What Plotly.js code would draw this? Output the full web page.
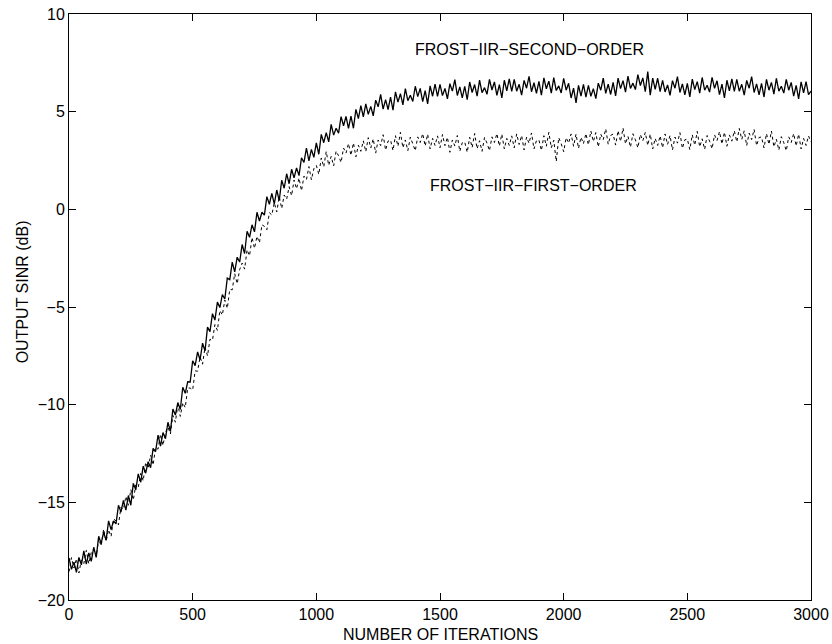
<!DOCTYPE html>
<html>
<head>
<meta charset="utf-8">
<script src="https://cdn.plot.ly/plotly-3.0.1.min.js"></script>
<style>
  html, body { margin: 0; padding: 0; background: #ffffff; }
  #chart { width: 832px; height: 644px; }
</style>
</head>
<body>
<div id="chart"></div>
<script>
// Sample spacing (iterations between read samples)
const iterStep = 10;

// FROST-IIR-SECOND-ORDER output SINR (dB), read every 10 iterations (0..3000)
const secondOrder = [
  -17.85,-18.43,-18.06,-18.59,-17.82,-18.2,-17.48,-18.16,-17.59,-18.02,
  -17.3,-17.82,-16.74,-17.11,-16.53,-16.95,-15.95,-16.4,-15.95,-16.1,
  -15.15,-15.5,-14.9,-15.4,-14.65,-15.15,-14.03,-14.36,-13.54,-13.97,
  -13.15,-13.51,-12.92,-13.23,-12.24,-12.4,-11.56,-12.12,-11.43,-11.74,
  -10.9,-11.36,-10.22,-10.53,-9.89,-10.25,-9.11,-9.42,-8.83,-8.84,
  -7.75,-8.0,-7.3,-7.7,-6.85,-7.25,-6.03,-6.26,-5.34,-5.67,
  -4.75,-5.03,-4.36,-4.59,-3.52,-3.6,-2.7,-3.2,-2.45,-2.7,
  -1.8,-2.26,-1.12,-1.43,-0.79,-1.15,-0.15,-0.6,-0.15,-0.3,
  0.65,0.26,0.82,0.28,0.99,0.45,1.49,1.08,1.82,1.31,
  2.05,1.61,2.12,1.73,2.64,2.4,3.14,2.48,3.07,2.66,
  3.4,2.82,3.84,3.41,3.93,3.45,4.35,3.8,4.15,3.9,
  4.75,4.28,4.76,4.14,4.77,4.15,5.12,4.64,5.31,4.73,
  5.4,4.86,5.27,4.78,5.59,5.25,5.89,5.13,5.62,5.11,
  5.75,5.08,6.01,5.49,5.92,5.35,6.18,5.56,5.84,5.52,
  6.3,5.77,6.19,5.51,6.08,5.4,6.32,5.79,6.41,5.78,
  6.4,5.82,6.19,5.66,6.43,6.05,6.64,5.83,6.27,5.71,
  6.3,5.61,6.52,5.98,6.39,5.8,6.61,5.97,6.23,5.89,
  6.65,6.11,6.52,5.83,6.39,5.7,6.61,6.07,6.68,6.04,
  6.65,6.05,6.4,5.85,6.6,6.2,6.81,6.02,6.48,5.94,
  6.55,5.84,6.73,6.17,6.56,5.95,6.74,6.08,6.32,5.96,
  6.7,6.1,6.45,5.7,6.2,5.45,6.35,5.8,6.4,5.75,
  6.35,5.79,6.18,5.67,6.46,6.1,6.72,5.94,6.41,5.88,
  6.5,5.81,6.72,6.18,6.59,6.0,6.82,6.19,6.46,6.13,
  6.9,6.34,6.73,6.02,7.05,5.85,6.72,6.14,6.71,6.03,
  6.6,6.01,6.37,5.83,6.59,6.2,6.79,5.98,6.42,5.86,
  6.45,5.76,6.67,6.13,6.54,5.95,6.75,6.1,6.35,6.0,
  6.75,6.19,6.58,5.87,6.41,5.7,6.61,6.07,6.68,6.04,
  6.65,6.05,6.4,5.85,6.6,6.2,6.79,5.98,6.42,5.86,
  6.45,5.75,6.65,6.1,6.5,5.9,6.7,6.05,6.3,5.95,
  6.65,6.1,6.5,5.8,6.35,5.65,6.53,5.96,6.54,5.87,
  6.05
];

// FROST-IIR-FIRST-ORDER output SINR (dB), read every 10 iterations (0..3000)
const firstOrder = [
  -18.55,-17.83,-18.36,-17.89,-18.62,-17.95,-18.13,-17.46,-18.14,-17.57,
  -17.4,-17.78,-16.86,-17.24,-16.37,-17.0,-16.4,-16.75,-15.85,-15.95,
  -16.15,-15.25,-15.35,-14.7,-15.15,-14.35,-14.88,-14.11,-14.24,-13.52,
  -13.9,-12.96,-13.27,-12.58,-13.09,-12.2,-12.28,-11.51,-12.09,-11.42,
  -11.15,-11.5,-10.55,-10.9,-10.0,-10.6,-9.9,-10.15,-9.15,-9.15,
  -9.25,-8.27,-8.29,-7.56,-7.93,-7.05,-7.5,-6.65,-6.7,-5.9,
  -6.2,-5.18,-5.41,-4.64,-5.07,-4.1,-4.12,-3.29,-3.81,-3.08,
  -2.75,-3.06,-2.07,-2.38,-1.44,-2.0,-1.38,-1.71,-0.79,-0.87,
  -1.05,-0.17,-0.29,0.34,-0.13,0.65,0.04,0.73,0.52,1.16,
  0.7,1.5,1.05,1.6,0.95,1.7,1.52,2.19,1.51,2.08,
  2.25,1.79,2.63,2.17,2.96,2.25,2.71,2.22,2.98,2.74,
  2.4,3.14,2.88,3.37,2.76,3.4,2.69,3.28,2.97,3.51,
  2.95,3.67,3.14,3.61,2.88,3.55,3.26,3.82,3.03,3.49,
  3.55,3.01,3.77,3.23,3.94,3.15,3.55,3.0,3.7,3.4,
  3.0,3.71,3.42,3.88,3.24,3.85,3.09,3.63,3.27,3.76,
  3.15,3.83,3.26,3.69,2.92,3.55,3.24,3.78,2.97,3.41,
  3.45,2.92,3.69,3.16,3.88,3.1,3.51,2.97,3.68,3.39,
  3.0,3.71,3.42,3.88,3.24,3.85,3.09,3.63,3.27,3.76,
  3.15,3.86,3.32,3.78,3.04,3.7,3.38,3.91,3.09,3.52,
  3.55,3.01,3.77,3.23,3.94,3.15,3.54,2.45,3.67,3.36,
  2.95,3.67,3.39,3.86,3.23,3.85,3.12,3.69,3.36,3.88,
  3.3,4.01,3.47,3.93,3.19,3.85,3.56,4.12,3.33,3.79,
  3.85,3.29,4.03,3.47,4.16,3.35,3.74,3.18,3.87,3.56,
  3.15,3.83,3.51,3.94,3.27,3.85,3.09,3.63,3.27,3.76,
  3.15,3.86,3.32,3.78,3.04,3.7,3.39,3.93,3.12,3.56,
  3.6,3.06,3.82,3.28,3.99,3.2,3.61,3.07,3.78,3.49,
  3.1,3.81,3.52,3.98,3.34,3.95,3.23,3.81,3.49,4.02,
  3.45,4.14,3.58,4.02,3.26,3.9,3.57,4.09,3.26,3.68,
  3.7,3.14,3.88,3.32,4.01,3.2,3.59,3.03,3.72,3.41,
  3.0,3.71,3.42,3.88,3.24,3.85,3.09,3.63,3.27,3.76,
  3.45
];

// Tick values
const xTicks = [0, 500, 1000, 1500, 2000, 2500, 3000];
const yTicks = [-20, -15, -10, -5, 0, 5, 10];

// Curve labels
const curveLabels = ["FROST\u2212IIR\u2212SECOND\u2212ORDER", "FROST\u2212IIR\u2212FIRST\u2212ORDER"];
const labelX = [1860, 1880];
const labelY = [8.2, 1.2];

const xTitle = "NUMBER OF ITERATIONS";
const yTitle = "OUTPUT SINR (dB)";

const iterations = secondOrder.map((_, i) => i * iterStep);

const FONT = "Liberation Sans, Arial, Helvetica, sans-serif";

const traces = [
  {
    x: iterations, y: firstOrder, type: "scatter", mode: "lines",
    line: { color: "#000000", width: 1, dash: "dot" }, name: curveLabels[1], hoverinfo: "skip"
  },
  {
    x: iterations, y: secondOrder, type: "scatter", mode: "lines",
    line: { color: "#000000", width: 1.3 }, name: curveLabels[0], hoverinfo: "skip"
  }
];

const axisCommon = {
  showline: true, linecolor: "#000000", linewidth: 1, mirror: "ticks",
  ticks: "inside", ticklen: 7, tickwidth: 1, tickcolor: "#000000",
  showgrid: false, zeroline: false,
  tickfont: { family: FONT, size: 16, color: "#000000" },
  tickmode: "array"
};

const layout = {
  width: 832, height: 644,
  margin: { l: 69, r: 21, t: 14, b: 44 },
  paper_bgcolor: "#ffffff", plot_bgcolor: "#ffffff",
  showlegend: false,
  font: { family: FONT, size: 16, color: "#000000" },
  xaxis: Object.assign({}, axisCommon, {
    range: [0, 3000], tickvals: xTicks, ticktext: xTicks.map(String)
  }),
  yaxis: Object.assign({}, axisCommon, {
    range: [-20, 10], tickvals: yTicks
  }),
  annotations: [
    { x: labelX[0], y: labelY[0], xref: "x", yref: "y", text: curveLabels[0], showarrow: false,
      font: { family: FONT, size: 16, color: "#000000" } },
    { x: labelX[1], y: labelY[1], xref: "x", yref: "y", text: curveLabels[1], showarrow: false,
      font: { family: FONT, size: 16, color: "#000000" } },
    { x: 0.5, y: 0, xref: "paper", yref: "paper", yshift: -34, yanchor: "middle",
      text: xTitle, showarrow: false, font: { family: FONT, size: 16, color: "#000000" } },
    { x: 0, y: 0.525, xref: "paper", yref: "paper", xshift: -47, xanchor: "center", yanchor: "middle",
      textangle: -90, text: yTitle, showarrow: false, font: { family: FONT, size: 16, color: "#000000" } }
  ]
};

Plotly.newPlot("chart", traces, layout, { staticPlot: true, displayModeBar: false });
</script>
</body>
</html>
